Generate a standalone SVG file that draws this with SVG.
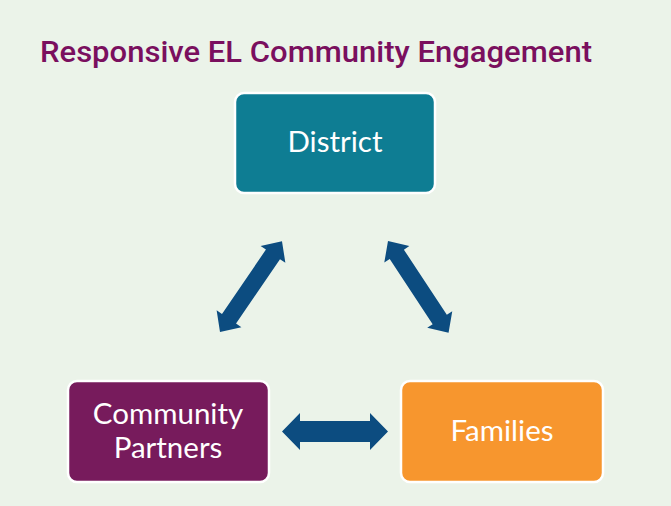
<svg xmlns="http://www.w3.org/2000/svg" width="671" height="506" viewBox="0 0 671 506">
<defs>
<style>
.box{stroke:#ffffff;stroke-width:2.5}
.lbl{font-family:Lato,"Open Sans","Liberation Sans",sans-serif;font-size:29.5px;fill:#ffffff;text-anchor:middle}
.arr{fill:#0C4C80}
</style>
<polygon id="dbl" points="0,0 16,-15 16,-8.5 94,-8.5 94,-15 110,0 94,15 94,8.5 16,8.5 16,15"/>
</defs>
<rect width="671" height="506" fill="#EBF3E9"/>
<text x="40" y="62" font-family="Roboto,'Open Sans','Liberation Sans',sans-serif" font-weight="500" font-size="29.5" fill="#7A0F5E" textLength="552" lengthAdjust="spacingAndGlyphs">Responsive EL Community Engagement</text>
<g id="connectors" class="arr">
<use href="#dbl" transform="translate(220,332) rotate(-55.7)"/>
<use href="#dbl" transform="translate(388,241) rotate(56.6)"/>
<polygon points="282,431.5 300,413 300,421 370,421 370,413 388,431.5 370,450 370,442 300,442 300,450"/>
</g>
<g id="district">
<rect class="box" x="235" y="93" width="200" height="100" rx="9" fill="#0E7D93"/>
<text class="lbl" x="335" y="152">District</text>
</g>
<g id="community-partners">
<rect class="box" x="68" y="381" width="201" height="101" rx="9" fill="#771B5C"/>
<text class="lbl" x="168" y="424">Community</text>
<text class="lbl" x="168" y="458">Partners</text>
</g>
<g id="families">
<rect class="box" x="401" y="381" width="202" height="101" rx="9" fill="#F7962E"/>
<text class="lbl" x="502" y="441">Families</text>
</g>
</svg>
